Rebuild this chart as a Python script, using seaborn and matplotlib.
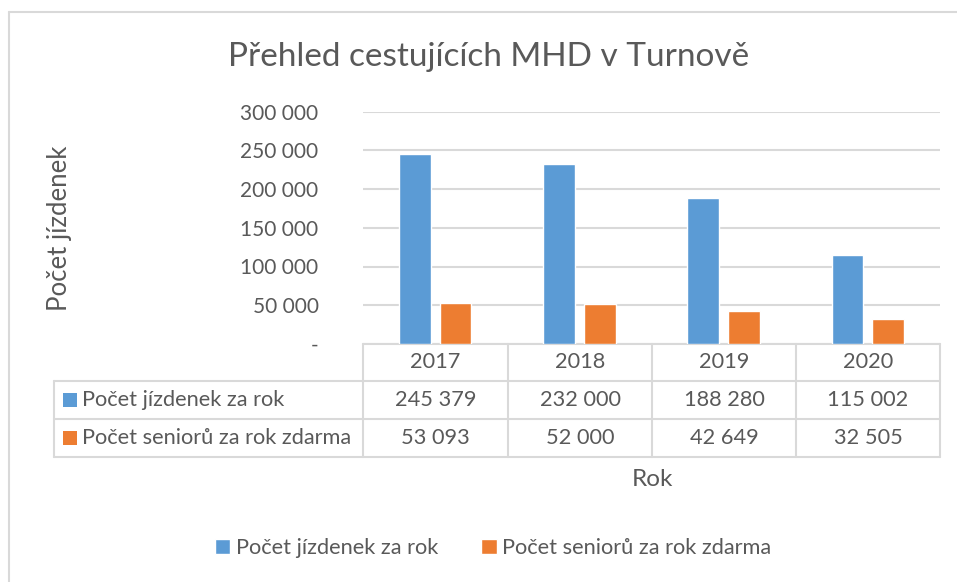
import matplotlib
matplotlib.use("Agg")
import matplotlib.pyplot as plt
import pandas as pd
import seaborn as sns
from matplotlib.lines import Line2D
from matplotlib.patches import Rectangle

# data
years = ["2017", "2018", "2019", "2020"]
tickets = [245379, 232000, 188280, 115002]
seniors = [53093, 52000, 42649, 32505]
series_names = ["Počet jízdenek za rok", "Počet seniorů za rok zdarma"]
y_ticks = [0, 50000, 100000, 150000, 200000, 250000, 300000]

BLUE = "#5B9BD5"
ORANGE = "#ED7D31"
TEXT = "#595959"
GRID = "#D9D9D9"

W, H = 957, 582
FS = 15.7

sns.set_theme(style="white")
plt.rcParams["font.family"] = ["Lato", "DejaVu Sans"]


def fmt(v: int) -> str:
    return "-" if v == 0 else f"{v:,}".replace(",", " ")


def fx(px: float) -> float:
    return px / W


def fy(py: float) -> float:
    return 1 - py / H


df = pd.DataFrame(
    {
        "rok": years * 2,
        "hodnota": tickets + seniors,
        "serie": [series_names[0]] * len(years) + [series_names[1]] * len(years),
    }
)

fig = plt.figure(figsize=(W / 100, H / 100), dpi=100)

# overlay for frame + data table, pixel coordinates
over = fig.add_axes([0, 0, 1, 1])
over.set_xlim(0, W)
over.set_ylim(H, 0)
over.axis("off")

left, right, base, top = 363, 940, 344, 111.5
ax = fig.add_axes([fx(left), fy(base), fx(right - left), fy(top) - fy(base)])
sns.barplot(
    data=df,
    x="rok",
    y="hodnota",
    hue="serie",
    palette=[BLUE, ORANGE],
    width=0.566,
    gap=0.22,
    saturation=1,
    legend=True,
    ax=ax,
)
handles, labels = ax.get_legend_handles_labels()
ax.get_legend().remove()
ax.set_xlim(-0.5, len(years) - 0.5)
ax.set_ylim(0, 300000)
ax.set_yticks(y_ticks)
ax.set_yticklabels([fmt(v) for v in y_ticks], color=TEXT, fontsize=15)
ax.tick_params(axis="y", length=0, pad=32)
ax.set_xticks([])
ax.set_xlabel("")
ax.set_ylabel("")
ax.yaxis.grid(True, color=GRID, linewidth=1.5)
ax.set_axisbelow(True)
for s in ax.spines.values():
    s.set_visible(False)
ax.patch.set_alpha(0)

# chart frame (left and top edges visible)
over.add_line(Line2D([9, 9], [12, H], color=GRID, lw=1.5))
over.add_line(Line2D([9, W], [12, 12], color=GRID, lw=1.5))

# data table
col_edges = [363, 508, 652, 796, 940]
row_edges = [344, 381, 419, 457]
key_left = 54
lw = 1.5
over.add_line(Line2D([col_edges[0], col_edges[-1]], [row_edges[0]] * 2, color=GRID, lw=lw))
for ry in row_edges[1:]:
    over.add_line(Line2D([key_left, col_edges[-1]], [ry, ry], color=GRID, lw=lw))
for cx in col_edges:
    over.add_line(Line2D([cx, cx], [row_edges[0], row_edges[-1]], color=GRID, lw=lw))
over.add_line(Line2D([key_left, key_left], [row_edges[1], row_edges[-1]], color=GRID, lw=lw))

for i, yr in enumerate(years):
    cx = (col_edges[i] + col_edges[i + 1]) / 2
    over.text(cx, (row_edges[0] + row_edges[1]) / 2, yr, ha="center", va="center", color=TEXT, fontsize=FS)
    over.text(cx, (row_edges[1] + row_edges[2]) / 2, fmt(tickets[i]), ha="center", va="center", color=TEXT, fontsize=FS)
    over.text(cx, (row_edges[2] + row_edges[3]) / 2, fmt(seniors[i]), ha="center", va="center", color=TEXT, fontsize=FS)

for j, (name, col) in enumerate(zip(series_names, [BLUE, ORANGE])):
    cy = (row_edges[j + 1] + row_edges[j + 2]) / 2
    over.add_patch(Rectangle((63, cy - 7), 14, 14, color=col, lw=0))
    over.text(82, cy, name, ha="left", va="center", color=TEXT, fontsize=FS)

# titles
over.text(489, 57, "Přehled cestujících MHD v Turnově", ha="center", va="center", color=TEXT, fontsize=24)
over.text(60, 228, "Počet jízdenek", ha="center", va="center", rotation=90, color=TEXT, fontsize=18.5)
over.text(652, 480, "Rok", ha="center", va="center", color=TEXT, fontsize=17.5)

fig.legend(
    handles,
    labels,
    loc="center",
    bbox_to_anchor=(fx(493), fy(548)),
    ncol=2,
    frameon=False,
    fontsize=FS,
    labelcolor=TEXT,
    handlelength=0.7,
    handleheight=0.7,
    handletextpad=0.25,
    columnspacing=2.0,
)

fig.savefig("out.png", dpi=100)
